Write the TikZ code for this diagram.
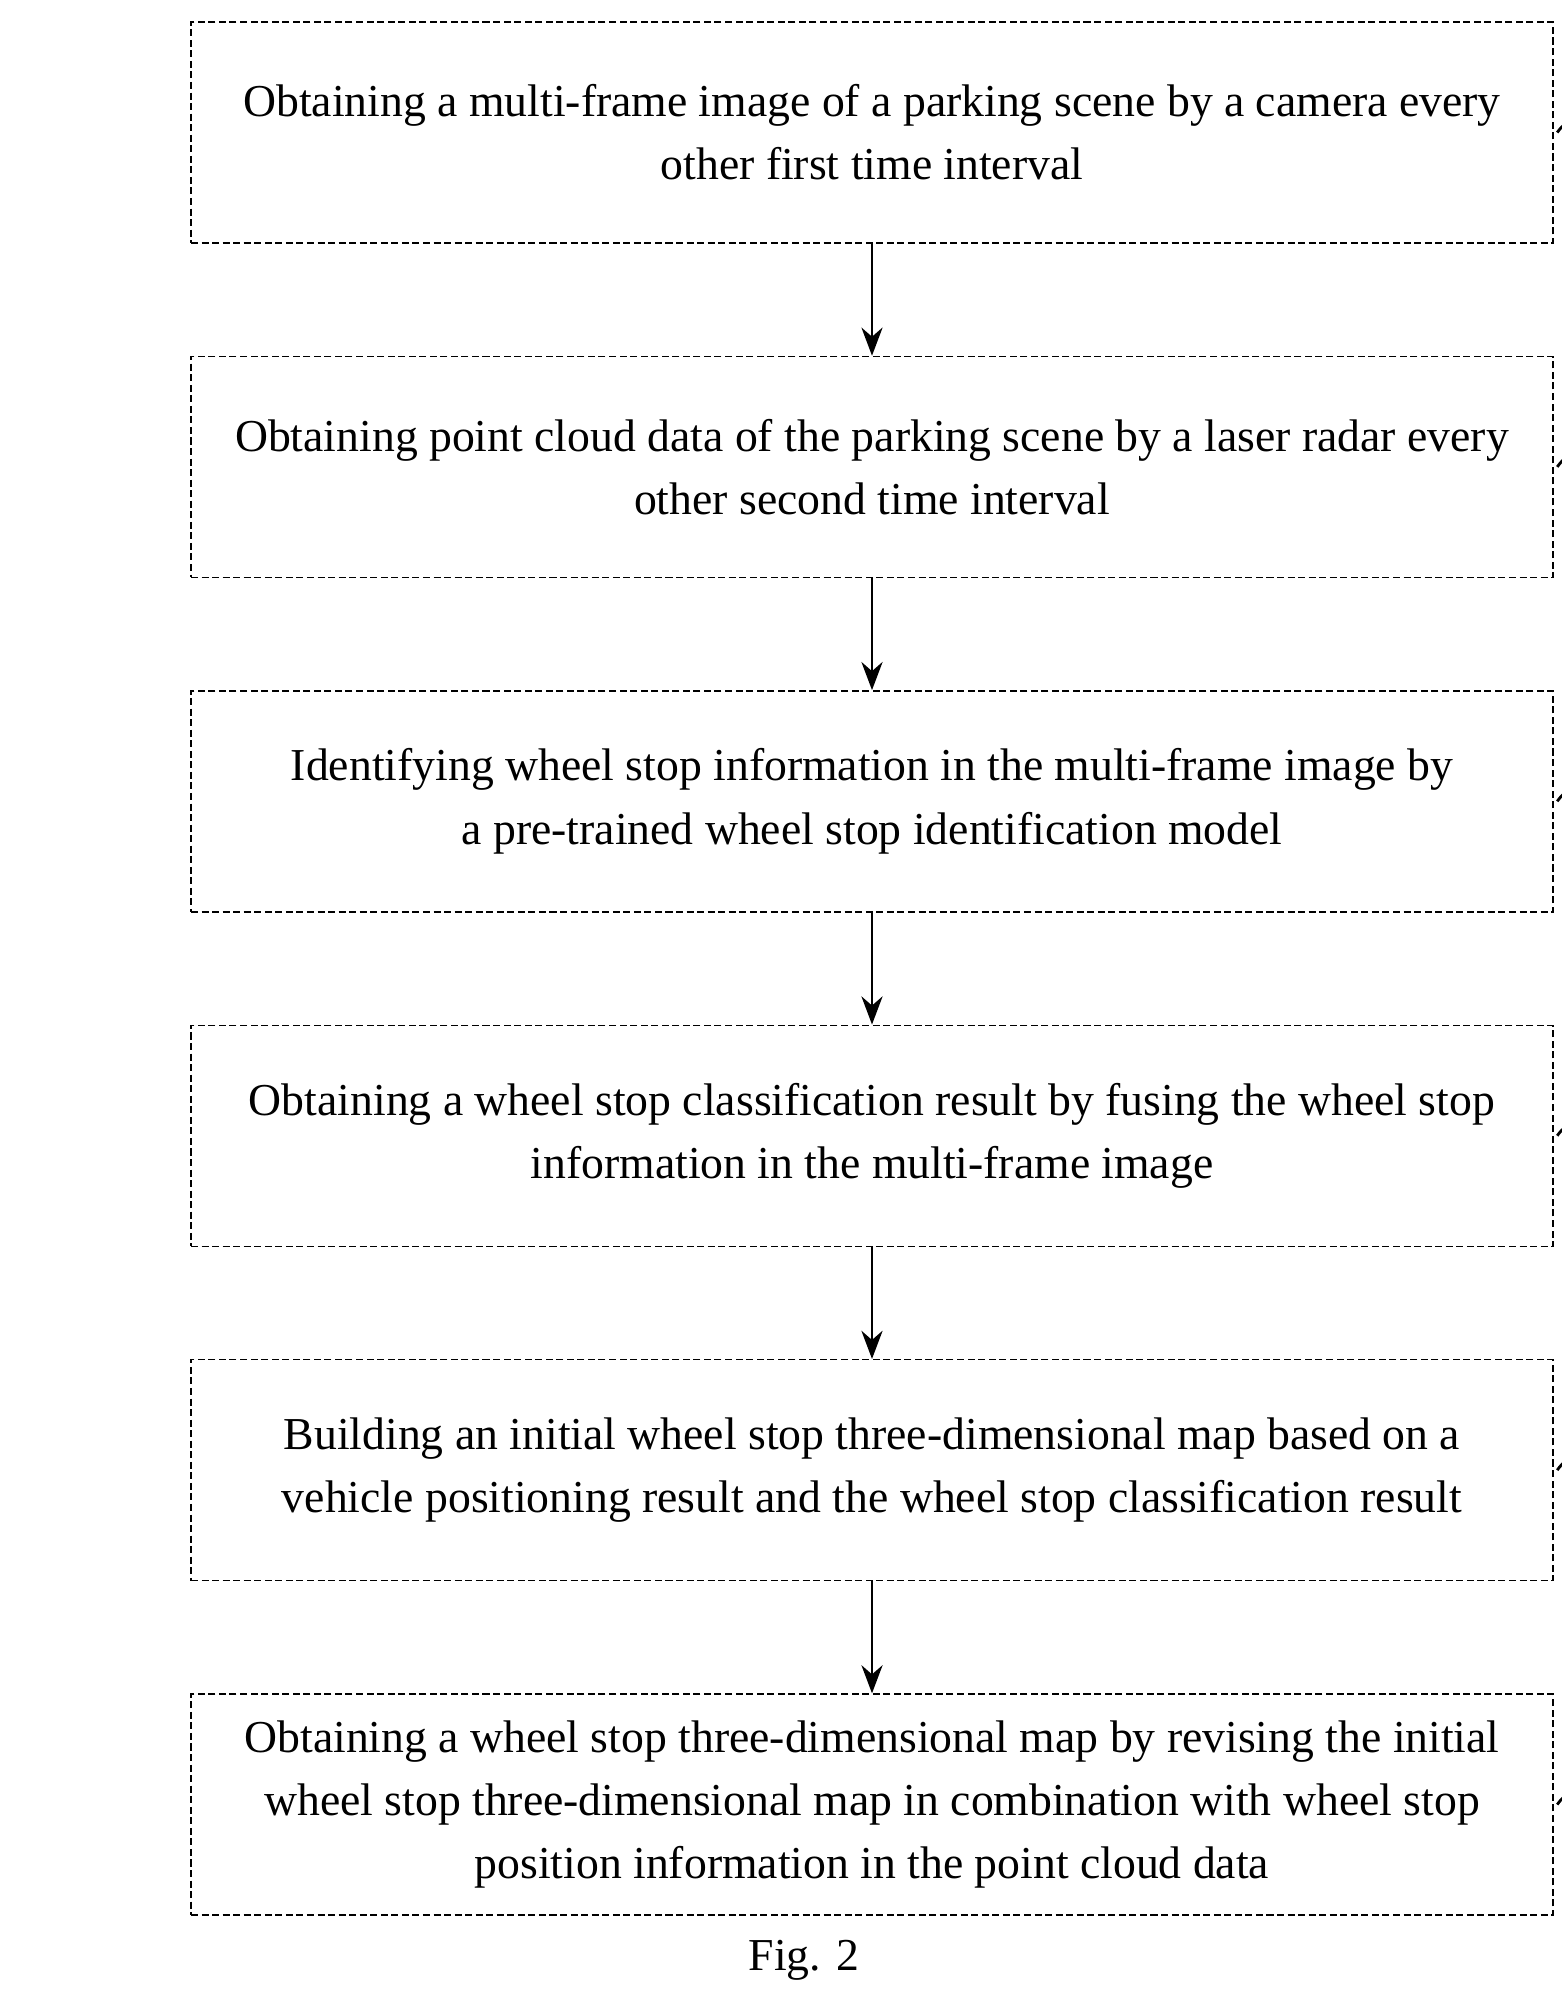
\documentclass[tikz,border=0pt]{standalone}
\usepackage{fontspec}
\setmainfont{Liberation Serif}
\usetikzlibrary{arrows.meta, positioning}
\tikzset{
    stepbox/.style={draw, dashed, dash pattern=on 2pt off 1pt, minimum width=13.62cm, minimum height=2.21cm,
        align=center, inner sep=2pt, font=\fontsize{13}{18}\selectfont},
    flow/.style={-{Stealth[length=8pt,width=6pt]}, thick},
    tag/.style={font=\fontsize{14}{17}\selectfont, inner sep=1pt},
    wave/.style={thick}
}
\begin{document}
\begin{tikzpicture}
    \useasboundingbox (0,0) rectangle (15.61,-20.03);
    % steps
    \node[stepbox] (s21) at (8.72,-1.325) {Obtaining a multi-frame image of a parking scene by a camera every\\other first time interval};
    \node[stepbox, below=1.12cm of s21] (s22) {Obtaining point cloud data of the parking scene by a laser radar every\\other second time interval};
    \node[stepbox, below=1.12cm of s22] (s23) {Identifying wheel stop information in the multi-frame image by\\a pre-trained wheel stop identification model};
    \node[stepbox, below=1.12cm of s23] (s24) {Obtaining a wheel stop classification result by fusing the wheel stop\\information in the multi-frame image};
    \node[stepbox, below=1.12cm of s24] (s25) {Building an initial wheel stop three-dimensional map based on a\\vehicle positioning result and the wheel stop classification result};
    \node[stepbox, below=1.12cm of s25] (s26) {Obtaining a wheel stop three-dimensional map by revising the initial\\wheel stop three-dimensional map in combination with wheel stop\\position information in the point cloud data};
    % arrows
    \foreach \a/\b in {s21/s22, s22/s23, s23/s24, s24/s25, s25/s26}
        \draw[flow] (\a) -- (\b);
    % step labels
    \foreach \s in {21,...,26} {
        \coordinate (w\s) at ([xshift=1pt]s\s.east);
        \draw[wave] (w\s) .. controls +(0.25,0.35) and +(-0.25,-0.4) .. ++(0.42,0)
            .. controls +(0.25,0.4) and +(-0.15,-0.2) .. ++(0.42,0.1) coordinate (e\s);
        \node[tag, anchor=south west] (t\s) at ([xshift=-4pt,yshift=-2pt]e\s) {S\s};
    }
    \node[font=\fontsize{13}{18}\selectfont] (fig) at (8.04,-19.6) {Fig. 2};
\end{tikzpicture}
\end{document}
